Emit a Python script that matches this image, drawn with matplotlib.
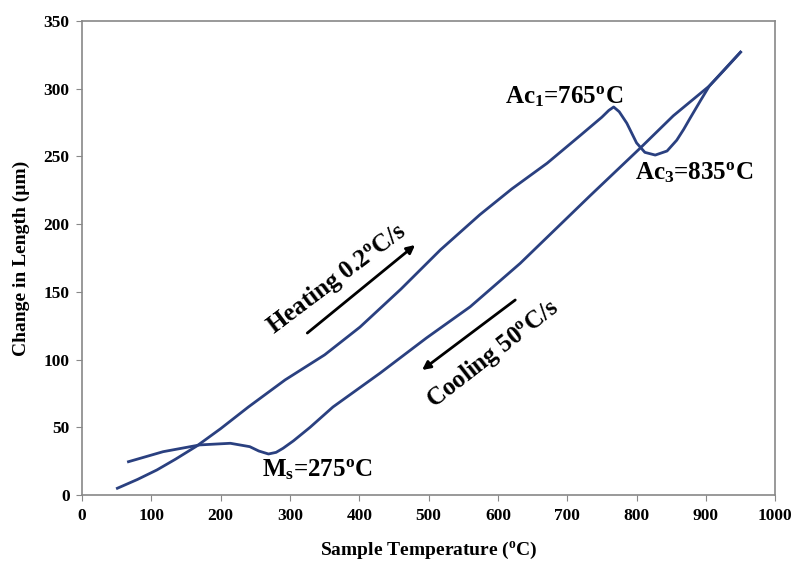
import matplotlib
matplotlib.use("Agg")
import matplotlib.pyplot as plt

plt.rcParams['font.family'] = ['Liberation Serif', 'DejaVu Serif']
plt.rcParams['font.weight'] = 'bold'
plt.rcParams['mathtext.fontset'] = 'custom'
plt.rcParams['mathtext.rm'] = 'Liberation Serif:bold'
plt.rcParams['mathtext.it'] = 'Liberation Serif:bold'
plt.rcParams['mathtext.bf'] = 'Liberation Serif:bold'

# Heating curve (0.2 C/s)
heat_T = [51, 80, 108, 135, 165, 200, 240, 293, 350, 401, 460, 517, 574, 620, 671,
          720, 750, 760, 767, 775, 786, 800, 812, 827, 844, 858, 868, 877, 892, 905,
          925, 950]
heat_L = [5, 11.5, 18.5, 26.5, 36, 49, 65, 85, 103.5, 124, 152, 181, 207, 226, 245,
          266, 279, 284, 286.5, 283, 274.5, 260, 253, 251, 254, 262, 270, 278, 291,
          302, 313, 327]

# Cooling curve (50 C/s)
cool_T = [950, 905, 853, 805, 733, 632, 560, 497, 430, 362, 329, 305, 290, 280,
          269, 255, 242, 214, 170, 117, 67]
cool_L = [327, 302, 280, 256, 221, 171, 139, 116, 90, 65, 50, 40, 34.5, 31.5,
          30.3, 32.5, 35.7, 38.2, 37, 32, 24.6]

x_ticks = [0, 100, 200, 300, 400, 500, 600, 700, 800, 900, 1000]
y_ticks = [0, 50, 100, 150, 200, 250, 300, 350]

line_color = '#2a4080'

fig = plt.figure(figsize=(7.91, 5.64), dpi=100)
ax = fig.add_axes([0.1037, 0.1223, 0.8763, 0.8405])

ax.plot(heat_T, heat_L, color=line_color, lw=2, solid_joinstyle='round')
ax.plot(cool_T, cool_L, color=line_color, lw=2, solid_joinstyle='round')

ax.set_xlim(0, 1000)
ax.set_ylim(0, 350)
ax.set_xticks(x_ticks)
ax.set_yticks(y_ticks)
ax.tick_params(direction='out', length=4, color='#888888', labelsize=12.5, pad=5)
for lab in ax.get_xticklabels() + ax.get_yticklabels():
    lab.set_fontweight('bold')
for sp in ax.spines.values():
    sp.set_color('#888888')
    sp.set_linewidth(1.2)

ax.set_xlabel('Sample Temperature ($^{\\rm o}$C)', fontsize=14, fontweight='bold', labelpad=12)
ax.set_ylabel('Change in Length (\u00b5m)', fontsize=14, fontweight='bold', labelpad=10)

ann_fs = 18
ax.text(610, 289, 'Ac$_{1}$=765$^{\\rm o}$C', fontsize=ann_fs, ha='left', va='baseline')
ax.text(883, 238, 'Ac$_{3}$=835$^{\\rm o}$C', fontsize=ann_fs, ha='center', va='center')
ax.text(340, 18.5, 'M$_{s}$=275$^{\\rm o}$C', fontsize=ann_fs, ha='center', va='center')

ax.text(368, 159.5, 'Heating 0.2$^{\\rm o}$C/s', fontsize=ann_fs, ha='center', va='center',
        rotation=37, rotation_mode='anchor')
ax.text(592, 104, 'Cooling 50$^{\\rm o}$C/s', fontsize=ann_fs, ha='center', va='center',
        rotation=38, rotation_mode='anchor')

ax.annotate('', xy=(480.5, 184.6), xytext=(325, 119.6),
            arrowprops=dict(arrowstyle='-|>', color='black', lw=2, mutation_scale=12,
                            shrinkA=0, shrinkB=0))
ax.annotate('', xy=(490.6, 92.3), xytext=(625, 144),
            arrowprops=dict(arrowstyle='-|>', color='black', lw=2, mutation_scale=12,
                            shrinkA=0, shrinkB=0))

fig.savefig('out.png', dpi=100)
